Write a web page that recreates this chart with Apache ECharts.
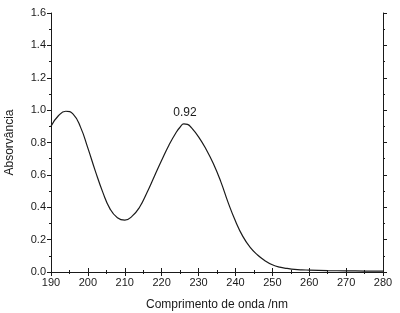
<!DOCTYPE html>
<html>
<head>
<meta charset="utf-8">
<script src="https://cdn.jsdelivr.net/npm/echarts@6/dist/echarts.min.js"></script>
<style>
  html, body { margin: 0; padding: 0; background: #fff; }
  #chart { width: 400px; height: 313px; }
</style>
</head>
<body>
<div id="chart"></div>
<script>
  // comprimento de onda (nm) e absorvância
  var wavelength = [190, 192, 194, 196, 198, 200, 202, 204, 206, 208, 210, 212, 214, 216, 218, 220, 222, 224, 225, 226, 227, 228, 230, 232, 234, 236, 238, 240, 242, 244, 246, 248, 250, 252, 254, 256, 258, 260, 265, 270, 275, 280];
  var absorbance = [0.90, 0.965, 0.993, 0.975, 0.895, 0.765, 0.625, 0.495, 0.39, 0.335, 0.32, 0.345, 0.40, 0.49, 0.59, 0.69, 0.785, 0.865, 0.895, 0.915, 0.912, 0.893, 0.835, 0.76, 0.67, 0.56, 0.43, 0.315, 0.22, 0.152, 0.105, 0.07, 0.045, 0.03, 0.022, 0.016, 0.013, 0.012, 0.009, 0.007, 0.006, 0.005];
  var peakLabel = { x: 226.3, y: 0.92, text: '0.92' };

  var seriesData = wavelength.map(function (w, i) { return [w, absorbance[i]]; });

  var font = 'Liberation Sans, Arial, sans-serif';
  var ink = '#1a1a1a';

  var axisBase = {
    type: 'value',
    axisLine: { show: true, lineStyle: { color: ink, width: 1 } },
    axisTick: { show: true, inside: false, length: 4, lineStyle: { color: ink } },
    minorTick: { show: true, splitNumber: 2, length: 2, lineStyle: { color: ink } },
    splitLine: { show: false }
  };

  var myChart = echarts.init(document.getElementById('chart'), null, { renderer: 'canvas' });
  var option = {
    animation: false,
    grid: { left: 51, right: 17, top: 13, bottom: 41, containLabel: false, outerBoundsMode: 'none' },
    xAxis: [
      Object.assign({}, axisBase, {
        min: 190, max: 280, interval: 10,
        name: 'Comprimento de onda /nm',
        nameLocation: 'middle', nameGap: 27,
        nameTextStyle: { fontFamily: font, fontSize: 12, color: ink },
        axisLabel: { fontFamily: font, fontSize: 11, color: ink, margin: 5 }
      }),
      Object.assign({}, axisBase, {
        position: 'top', min: 190, max: 280, interval: 10,
        axisLabel: { show: false }
      })
    ],
    yAxis: [
      Object.assign({}, axisBase, {
        min: 0, max: 1.6, interval: 0.2,
        name: 'Absorvância',
        nameLocation: 'middle', nameGap: 35,
        nameTextStyle: { fontFamily: font, fontSize: 12, color: ink },
        axisLabel: {
          fontFamily: font, fontSize: 11, color: ink, margin: 5,
          formatter: function (v) { return v.toFixed(1); }
        }
      }),
      Object.assign({}, axisBase, {
        position: 'right', min: 0, max: 1.6, interval: 0.2,
        axisLabel: { show: false }
      })
    ],
    series: [{
      type: 'line',
      data: seriesData,
      smooth: 0.5,
      showSymbol: false,
      lineStyle: { color: ink, width: 1.2 },
      markPoint: {
        symbol: 'circle',
        symbolSize: 0,
        data: [{ coord: [peakLabel.x, peakLabel.y] }],
        label: {
          show: true, position: 'top', distance: 4,
          formatter: peakLabel.text,
          fontFamily: font, fontSize: 12, color: ink
        }
      }
    }]
  };
  myChart.setOption(option);
</script>
</body>
</html>
